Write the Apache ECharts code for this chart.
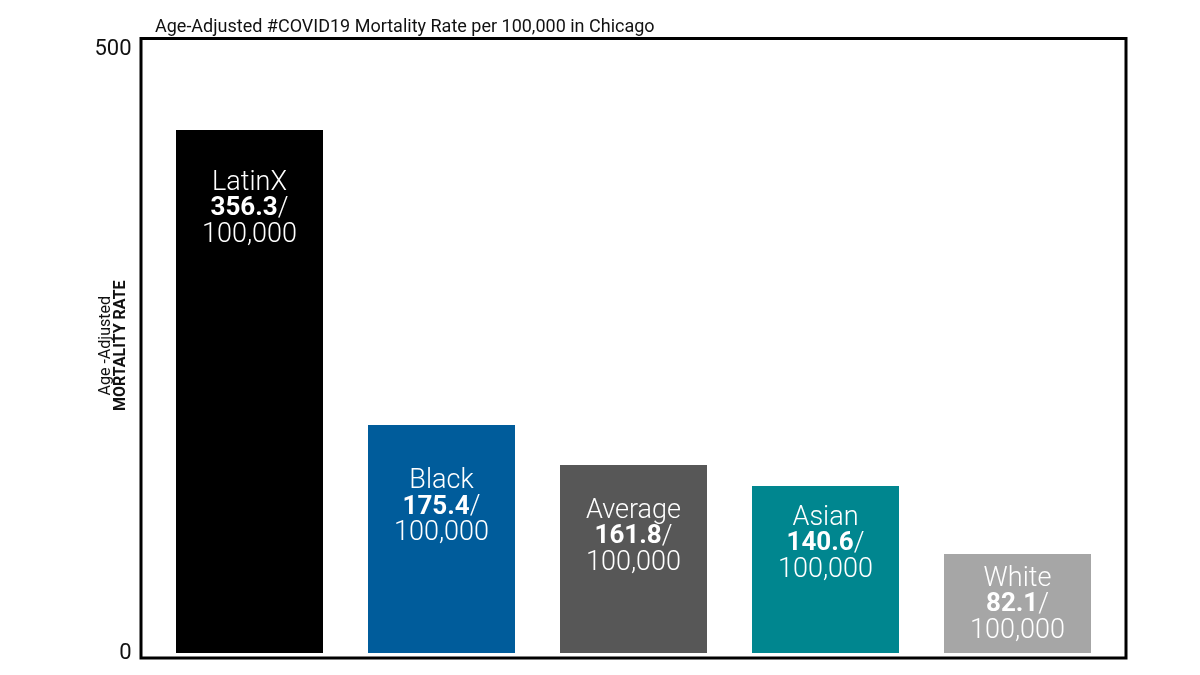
<!DOCTYPE html>
<html>
<head>
<meta charset="utf-8">
<script src="https://cdn.jsdelivr.net/npm/echarts@6/dist/echarts.min.js"></script>
<style>
  html, body { margin: 0; padding: 0; background: #fff; }
  #chart { width: 1200px; height: 675px; }
</style>
</head>
<body>
<div id="chart"></div>
<script>
// bar heights as drawn on the 0-500 axis, and the rates printed in the bars
const groups = ['LatinX', 'Black', 'Average', 'Asian', 'White'];
const barHeights = [425.6, 185.5, 153, 135.9, 80.6];
const rateLabels = ['356.3', '175.4', '161.8', '140.6', '82.1'];
const yTicks = [0, 500];

const colors = ['#000000', '#005c9b', '#575757', '#00868f', '#a6a6a6'];
const labelInset = [40, 43, 33, 19, 12]; // gap from bar top to text, px
const FONT = 'Roboto, "Noto Sans", sans-serif';

const chart = echarts.init(document.getElementById('chart'), null, { renderer: 'canvas' });

const option = {
  animation: false,
  backgroundColor: '#fff',
  title: {
    text: 'Age-Adjusted #COVID19 Mortality Rate per 100,000 in Chicago',
    left: 150, top: 13,
    textStyle: { fontFamily: FONT, fontWeight: 'normal', fontSize: 18, color: '#111' }
  },
  grid: [
    { left: 153.5, right: 86.5, top: 38.5, bottom: 22 },
    // frame around the plot
    { left: 141, right: 74, top: 38.5, bottom: 17, show: true,
      borderColor: '#000', borderWidth: 3, backgroundColor: 'transparent' }
  ],
  xAxis: [
    { type: 'category', data: groups, gridIndex: 0,
      axisLine: { show: false }, axisTick: { show: false }, axisLabel: { show: false } },
    { type: 'value', gridIndex: 1, show: false }
  ],
  yAxis: [
    { type: 'value', gridIndex: 0, min: yTicks[0], max: yTicks[1], interval: yTicks[1] - yTicks[0],
      splitLine: { show: false }, axisLine: { show: false }, axisTick: { show: false },
      axisLabel: { margin: 22, fontFamily: FONT, fontSize: 22, color: '#111',
        verticalAlignMaxLabel: 'top', verticalAlignMinLabel: 'middle' },
      name: '{a|Age -Adjusted}\n{b|MORTALITY RATE}',
      nameLocation: 'middle', nameRotate: 90, nameGap: 25, nameMoveOverlap: false,
      nameTextStyle: {
        fontFamily: FONT, color: '#111', lineHeight: 15, align: 'center',
        rich: {
          a: { fontFamily: FONT, fontSize: 16, lineHeight: 15, color: '#111' },
          b: { fontFamily: FONT, fontSize: 16, fontWeight: 'bold', lineHeight: 15, color: '#111' }
        }
      }
    },
    { type: 'value', gridIndex: 1, show: false }
  ],
  series: [{
    type: 'bar',
    xAxisIndex: 0, yAxisIndex: 0,
    barWidth: 147,
    data: barHeights.map((v, i) => ({
      value: v,
      itemStyle: { color: colors[i] },
      label: { distance: labelInset[i] }
    })),
    label: {
      show: true,
      position: 'insideTop',
      formatter: (p) => `{n|${groups[p.dataIndex]}}\n{b|${rateLabels[p.dataIndex]}}{n|/}\n{n|100,000}`,
      color: '#fff',
      rich: {
        n: { fontFamily: FONT, fontSize: 27, fontWeight: 300, color: '#fff', lineHeight: 26 },
        b: { fontFamily: FONT, fontSize: 26, fontWeight: 'bold', color: '#fff', lineHeight: 26 }
      }
    }
  }]
};

chart.setOption(option);
</script>
</body>
</html>
